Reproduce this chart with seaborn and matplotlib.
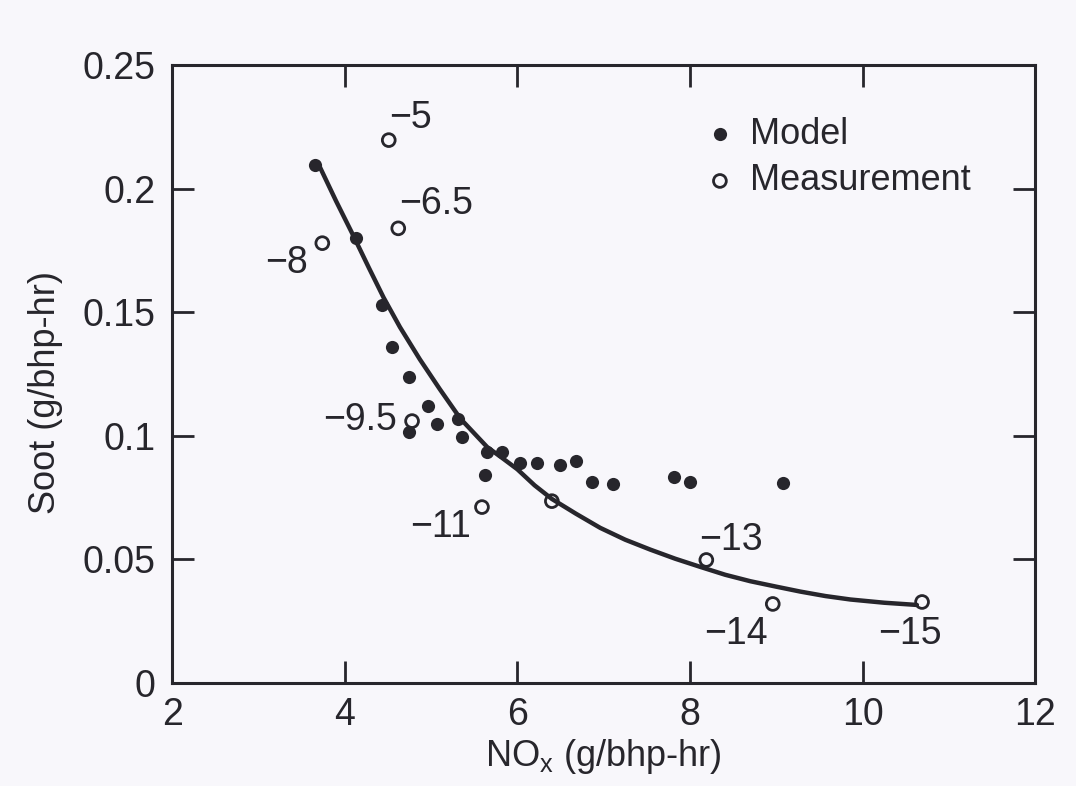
import matplotlib
matplotlib.use('Agg')
import matplotlib.pyplot as plt
import seaborn as sns
import pandas as pd

# Model points (filled)
model_nox = [3.66, 4.13, 4.43, 4.55, 4.74, 4.96, 4.74, 5.07, 5.31, 5.36, 5.65, 5.82,
             5.63, 6.03, 6.23, 6.50, 6.68, 6.87, 7.11, 7.81, 8.00, 9.08]
model_soot = [0.2096, 0.180, 0.153, 0.136, 0.124, 0.112, 0.1015, 0.105, 0.107, 0.0995, 0.0934, 0.0934,
              0.0841, 0.089, 0.089, 0.0882, 0.0898, 0.0813, 0.0805, 0.0833, 0.0813, 0.0809]

# Measurement points (open)
meas_nox = [4.51, 4.62, 3.74, 4.78, 5.59, 6.40, 8.19, 8.96, 10.69]
meas_soot = [0.2197, 0.184, 0.178, 0.106, 0.0712, 0.0736, 0.0498, 0.032, 0.0328]

# Trend curve, points
curve_nox = [3.69, 3.9, 4.1, 4.28, 4.45, 4.64, 4.87, 5.1, 5.34, 5.65, 5.82, 6.0, 6.2, 6.4,
             6.68, 6.96, 7.25, 7.54, 7.83, 8.12, 8.41, 8.70, 9.0, 9.28, 9.57, 9.86, 10.25, 10.63]
curve_soot = [0.2104, 0.195, 0.181, 0.168, 0.156, 0.144, 0.131, 0.119, 0.107, 0.0955, 0.0912,
              0.0865, 0.080, 0.0745, 0.0685, 0.0628, 0.0580, 0.0540, 0.0503, 0.0470, 0.0438,
              0.0412, 0.0390, 0.0370, 0.0352, 0.0338, 0.0325, 0.0316]

# Injection timing labels
label_text = ['\u22125', '\u22126.5', '\u22128', '\u22129.5', '\u221211', '\u221213', '\u221214', '\u221215']
label_x = [4.76, 5.06, 3.33, 4.18, 5.105, 8.47, 8.535, 10.55]
label_y = [0.2286, 0.1938, 0.170, 0.1064, 0.0631, 0.0578, 0.0198, 0.0198]

ink = '#27262c'
bg = '#f8f7fb'

sns.set_style('ticks')
plt.rcParams['font.family'] = ['Liberation Sans', 'DejaVu Sans']

fig = plt.figure(figsize=(10.76, 7.86), dpi=100, facecolor=bg)
ax = fig.add_axes([0.160, 0.131, 0.802, 0.786])
ax.set_facecolor(bg)

model_df = pd.DataFrame({'nox': model_nox, 'soot': model_soot})
meas_df = pd.DataFrame({'nox': meas_nox, 'soot': meas_soot})
curve_df = pd.DataFrame({'nox': curve_nox, 'soot': curve_soot})

sns.lineplot(data=curve_df, x='nox', y='soot', ax=ax, color=ink, linewidth=3.2, sort=False)
sns.scatterplot(data=model_df, x='nox', y='soot', ax=ax, color=ink, s=90,
                edgecolor=ink, linewidth=0, label='Model', zorder=3)
sns.scatterplot(data=meas_df, x='nox', y='soot', ax=ax, facecolor='none', s=85,
                edgecolor=ink, linewidth=2.0, label='Measurement', zorder=4)

for t, x, y in zip(label_text, label_x, label_y):
    ax.text(x, y, t, fontsize=27, color=ink, ha='center', va='center')

ax.set_xlim(2, 12)
ax.set_ylim(0, 0.25)
ax.set_xticks([2, 4, 6, 8, 10, 12])
ax.set_yticks([0, 0.05, 0.1, 0.15, 0.2, 0.25])
ax.set_yticklabels(['0', '0.05', '0.1', '0.15', '0.2', '0.25'])
ax.tick_params(axis='both', direction='in', length=16, width=2, color=ink,
               labelcolor=ink, labelsize=27, top=True, right=True)
ax.tick_params(axis='x', pad=10)
ax.tick_params(axis='y', pad=12)
for sp in ax.spines.values():
    sp.set_linewidth(2.2)
    sp.set_color(ink)
    sp.set_visible(True)

ax.set_xlabel('NO$_\\mathregular{x}$ (g/bhp-hr)', fontsize=26, color=ink)
ax.set_ylabel('Soot (g/bhp-hr)', fontsize=26, color=ink)
ax.xaxis.set_label_coords(0.5, -0.088)
ax.yaxis.set_label_coords(-0.127, 0.47)

ax.legend(loc='upper left', bbox_to_anchor=(0.618, 0.917), frameon=False, fontsize=26,
          handletextpad=0.43, labelspacing=0.33, borderaxespad=0, borderpad=0,
          handlelength=0.8, labelcolor=ink)

fig.savefig('out.png', dpi=100, facecolor=bg)
